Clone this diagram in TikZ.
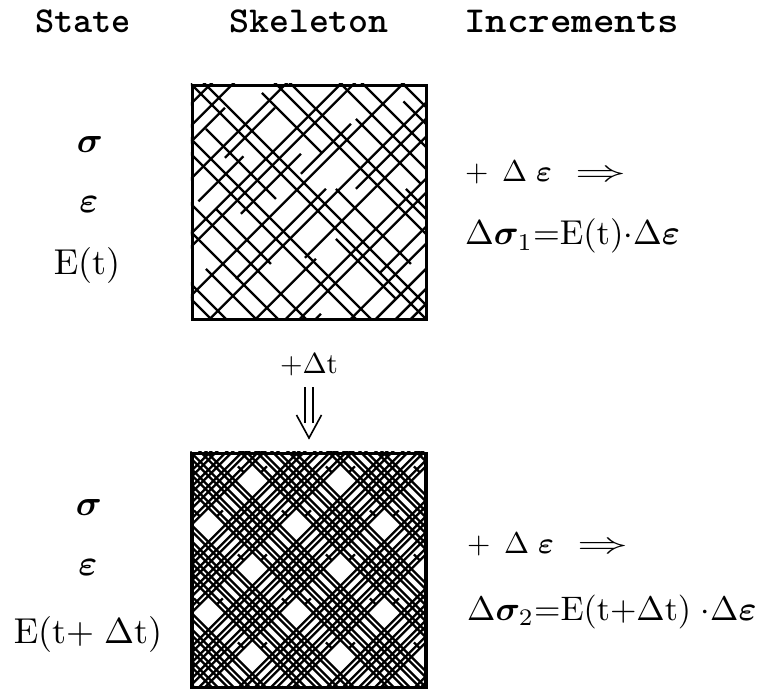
\documentclass[tikz,border=0pt]{standalone}
\usepackage{amsmath,bm,graphicx}
\newcommand\fibS[3]{\draw ({(#1+(#2))/2},{(#1-(#2))/2}) -- ({(#1+(#3))/2},{(#1-(#3))/2});}
\newcommand\fibB[3]{\draw ({(#2+(#1))/2},{(#2-(#1))/2}) -- ({(#3+(#1))/2},{(#3-(#1))/2});}
\newcommand\Mz[2]{\scalebox{#1}{$#2$}}
\newcommand\Hd[2]{\scalebox{#1}[3.65]{\bfseries\ttfamily #2}}
\newcommand\Imp{\scalebox{1.7}[1]{$\Rightarrow$}}
\begin{document}
\begin{tikzpicture}[x=1pt,y=-1pt,
  hdr/.style={inner sep=0pt, anchor=base west},
  mth/.style={inner sep=0pt, anchor=base},
  mthw/.style={inner sep=0pt, anchor=base west},
  skel/.style={draw, line width=3.2pt, minimum size=234pt, inner sep=0pt},
  arr/.style={line width=1.6pt}]
\fill[white] (0,0) rectangle (764,690);
\useasboundingbox (0,0) rectangle (764,690);

% headers
\node[hdr] (hState) at (35,33) {\Hd{3.65}{State}};
\node[hdr] (hSkel) at (229,33) {\Hd{3.8}{Skeleton}};
\node[hdr] (hInc) at (464,33) {\Hd{4.1}{Increments}};

% skeleton boxes
\node[skel] (top) at (309.5,202.5) {};
\node[skel] (bot) at (309,570.5) {};

% top pattern (sparse)
\begin{scope}[shift={(top.north west)}]
  \clip (0,0) rectangle (234,234);
  \begin{scope}[line width=2.4pt]
  \foreach \a/\p/\q in {20/-240/240, 42/-240/240, 58/-60/10, 95/-240/240, 108/-40/60,
      125/-110/-20, 150/-240/240, 163/-240/240, 180/-80/40, 200/20/120, 212/-240/240,
      240/-150/30, 254/-240/240, 270/60/200, 288/-60/240, 300/-240/-50, 330/-240/240,
      344/-240/240, 360/-200/-100, 378/0/120, 395/-240/240, 420/-80/60, 440/-240/240,
      455/-240/240}
    {\fibS{\a}{\p}{\q}}
  \foreach \b/\p/\q in {-215/-5/475, -200/-5/475, -170/200/330, -148/-5/475, -120/-5/475,
      -100/150/260, -70/-5/475, -55/-5/475, -30/60/200, -10/300/420, 0/-5/475, 14/-5/475,
      40/250/400, 62/80/200, 85/-5/475, 100/-5/475, 110/320/400, 130/200/330, 150/-5/475,
      172/-5/475, 195/230/300, 212/-5/475}
    {\fibB{\b}{\p}{\q}}
  \end{scope}
\end{scope}

% bottom pattern (dense)
\begin{scope}[shift={(bot.north west)}]
  \clip (0,0) rectangle (234,234);
  \begin{scope}[line width=2.3pt]
  \foreach \k in {-1,...,6}{\foreach \o in {17,23,33,39,49,55,65,71}{%
      \pgfmathsetmacro\aa{3+88*\k+\o}\fibS{\aa}{-240}{240}}}
  \foreach \k in {-4,...,3}{\foreach \o in {17,23,33,39,49,55,65,71}{%
      \pgfmathsetmacro\bb{33+88*\k+\o}\fibB{\bb}{-5}{475}}}
  \foreach \i in {0,...,5}{\foreach \j in {-3,...,3}{%
      \pgfmathsetmacro\A{3+88*\i}\pgfmathsetmacro\B{33+88*\j}%
      \pgfmathsetmacro\Bl{\B+17}\pgfmathsetmacro\Bh{\B+29}%
      \fibS{\A}{\Bl}{\Bh}%
      \pgfmathsetmacro\Al{\A-29}\pgfmathsetmacro\Ah{\A-17}%
      \fibB{\B}{\Al}{\Ah}}}
  \end{scope}
\end{scope}
\node[skel] at (top) {};
\node[skel] at (bot) {};

% state column
\node[mth] (s1) at (90,153) {\Mz{3.6}{\bm{\sigma}}};
\node[mth] (e1) at (89,213) {\Mz{3.6}{\bm{\varepsilon}}};
\node[mth] (E1) at (87,275) {\Mz{3.6}{\mathrm{E}(\mathrm{t})}};
\node[mth] (s2) at (89,515) {\Mz{3.6}{\bm{\sigma}}};
\node[mth] (e2) at (88,575) {\Mz{3.6}{\bm{\varepsilon}}};
\node[mth] (E2) at (88,643) {\Mz{3.6}{\mathrm{E}(\mathrm{t}{+}\;\Delta\mathrm{t})}};

% increments column
\node[mthw] (i1) at (465,182) {\Mz{3}{+\hspace{4.5pt}\Delta\hspace{3pt}\bm{\varepsilon}\hspace{8pt}\Imp}};
\node[mthw] (d1) at (465,245) {\Mz{3.45}{\Delta\bm{\sigma}_1{=}\mathrm{E}(\mathrm{t}){\cdot}\Delta\bm{\varepsilon}}};
\node[mthw] (i2) at (467,553) {\Mz{3}{+\hspace{4.5pt}\Delta\hspace{3pt}\bm{\varepsilon}\hspace{8pt}\Imp}};
\node[mthw] (d2) at (467,620) {\Mz{3.4}{\Delta\bm{\sigma}_2{=}\mathrm{E}(\mathrm{t}{+}\Delta\mathrm{t})\;{\cdot}\Delta\bm{\varepsilon}}};

% time step arrow
\node[mth] (dt) at (309,373) {\Mz{2.9}{{+}\Delta\mathrm{t}}};
\coordinate (aS) at (309,387);
\coordinate (aT) at (309,438);
\draw[arr] (aS) ++(-4,0) -- ++(0,36);
\draw[arr] (aS) ++(4,0) -- ++(0,36);
\draw[arr] (aT) ++(-12.5,-23) -- (aT) -- ++(12.5,-23);
\end{tikzpicture}
\end{document}
